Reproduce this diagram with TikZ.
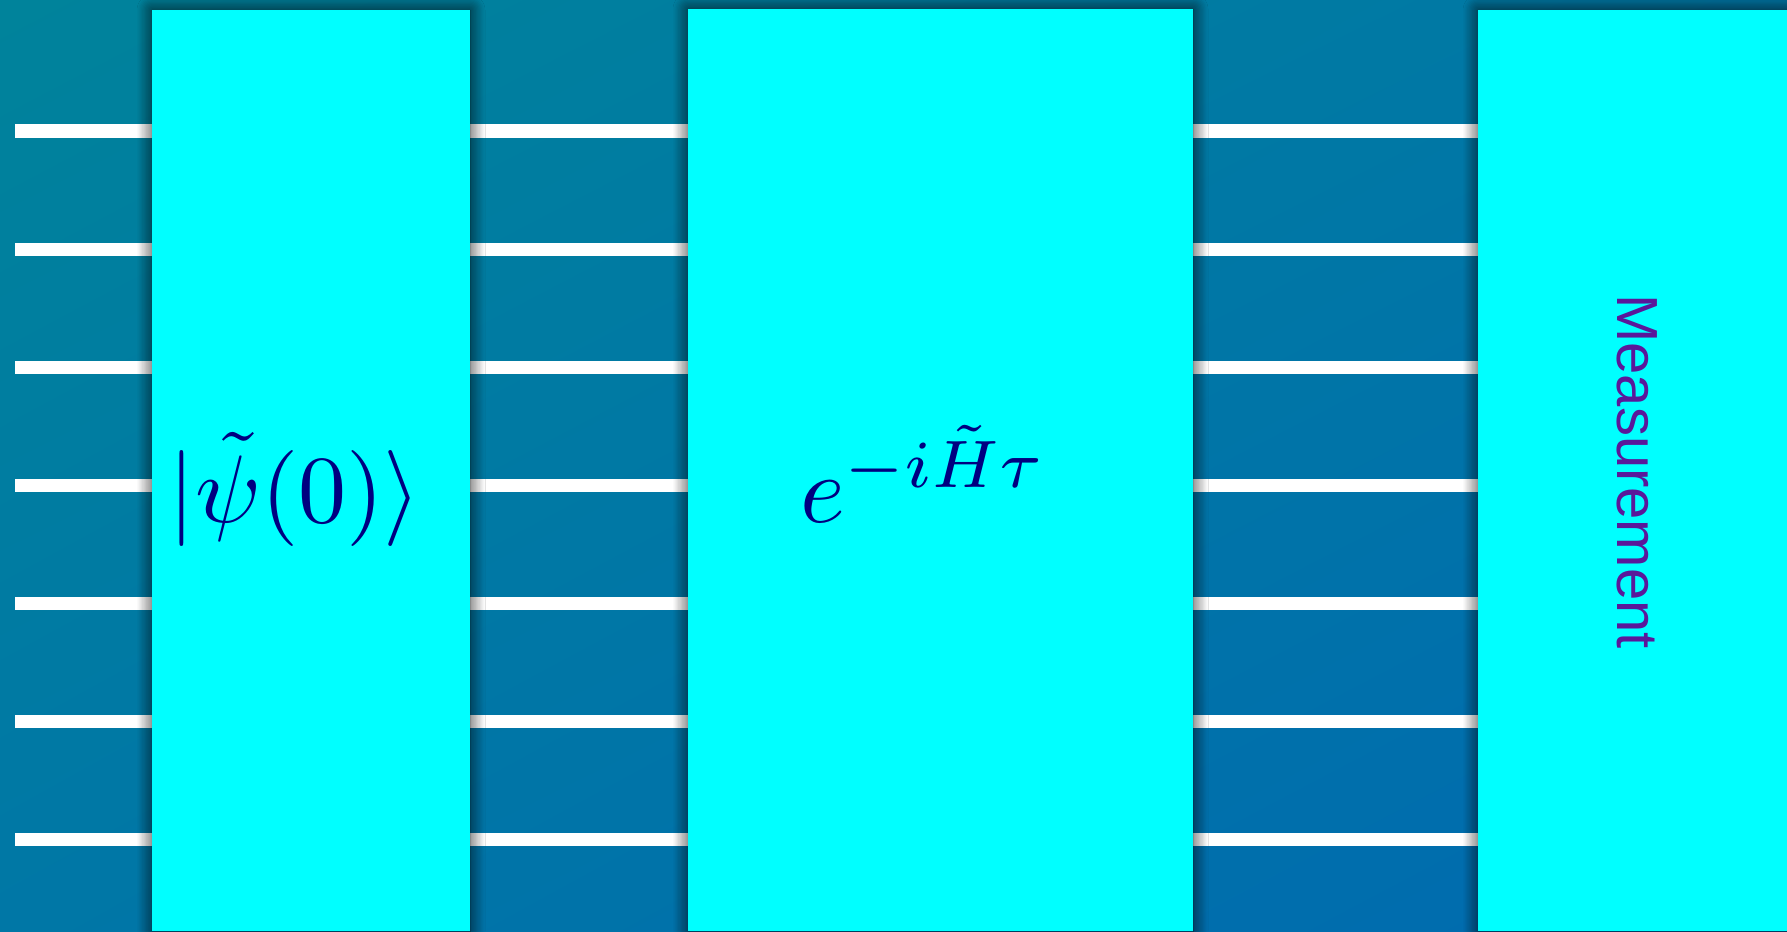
\documentclass[tikz,border=0pt]{standalone}
\usepackage{fontspec}
\newfontfamily\measfont{Liberation Sans}
\usetikzlibrary{shadows.blur,shadings}
\definecolor{bgTL}{RGB}{0,131,155}
\definecolor{bgBR}{RGB}{0,106,176}
\definecolor{bgMid}{RGB}{0,119,166}
\definecolor{gatecyan}{RGB}{0,255,255}
\definecolor{mathnavy}{RGB}{0,0,128}
\definecolor{measpurple}{RGB}{90,24,154}
\tikzset{
  wire/.style={draw=white, line width=13pt, line cap=butt},
  gate/.style={fill=gatecyan, draw=none, rectangle, inner sep=0pt,
    blur shadow={shadow xshift=0pt, shadow yshift=0pt, shadow blur radius=15pt, shadow opacity=85, shadow blur steps=12}},
  mathlabel/.style={text=mathnavy, inner sep=0pt, scale=9.6},
  measlabel/.style={text=measpurple, inner sep=0pt, font=\measfont\fontsize{58}{60}\selectfont, rotate=-90}
}
\begin{document}
\begin{tikzpicture}[x=1pt,y=-1pt]
\useasboundingbox (0,0) rectangle (1787,931);
\shade[upper left=bgTL, lower right=bgBR, upper right=bgMid, lower left=bgMid] (0,0) rectangle (1787,931);
% wires
\foreach \i/\y in {1/131,2/249,3/367,4/485,5/603,6/721,7/839}{
  \coordinate (w\i) at (15,\y);
  \coordinate (e\i) at (1480,\y);
  \draw[wire] (w\i) -- (e\i);
}
% gates
\node[gate, minimum width=318pt, minimum height=921pt] (prep) at (311,470.5) {};
\node[gate, minimum width=505pt, minimum height=922pt] (evol) at (940.5,470) {};
\node[gate, minimum width=330pt, minimum height=921pt] (meas) at (1643,470.5) {};
% labels
\node[mathlabel, anchor=base] (psi) at (295,522) {$|\tilde\psi(0)\rangle$};
\node[mathlabel, anchor=base] (U) at (924,522) {$e^{-i\tilde H\tau}$};
\node[measlabel] (mt) at (1637,471.5) {Measurement};
\end{tikzpicture}
\end{document}
